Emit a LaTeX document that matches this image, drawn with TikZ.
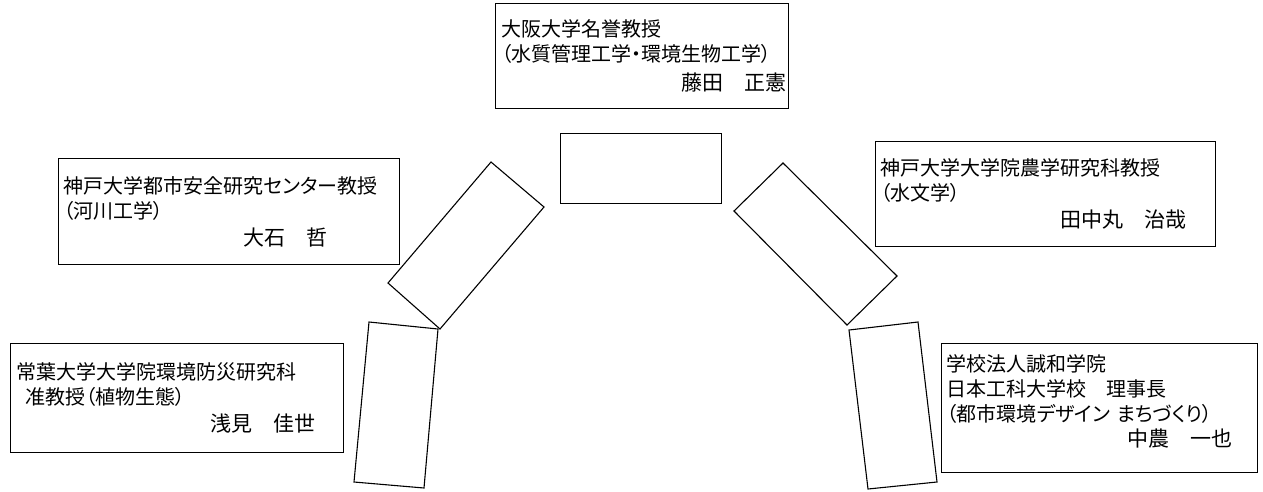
\documentclass[tikz,border=0pt]{standalone}
\usepackage{fontspec}
\setmainfont{Noto Sans CJK JP}[RawFeature=+palt]
\newcommand\nm[2]{\hspace*{#1}\makebox[0pt][l]{\fontsize{21}{27}\selectfont #2}}
\begin{document}
\begin{tikzpicture}[x=1pt,y=-1pt,
  pbox/.style={draw, line width=1.3pt, rectangle, anchor=north west, inner ysep=0pt, align=left, font=\fontsize{20}{25}\selectfont},
  plate/.style={draw, line width=1.1pt, line join=miter}]
\useasboundingbox (0,0) rectangle (1263,491);

\node[pbox, minimum width=293pt, minimum height=105pt, inner xsep=6pt, text width=281pt] (fujita) at (495,3)
  {大阪大学名誉教授\\（水質管理工学・環境生物工学）\\[4pt]\nm{180pt}{藤田　正憲}};
\node[pbox, minimum width=341pt, minimum height=106pt, inner xsep=5pt, text width=331pt] (oishi) at (58,158)
  {神戸大学都市安全研究センター教授\\（河川工学）\\[2pt]\nm{180pt}{大石　哲}};
\node[pbox, minimum width=340pt, minimum height=105pt, inner xsep=5pt, text width=330pt] (tanakamaru) at (875,141)
  {神戸大学大学院農学研究科教授\\（水文学）\\[2pt]\nm{180pt}{田中丸　治哉}};
\node[pbox, minimum width=333pt, minimum height=109pt, inner xsep=6pt, text width=321pt] (asami) at (10,343)
  {常葉大学大学院環境防災研究科\\\hspace*{9pt}准教授（植物生態）\\[2pt]\nm{194pt}{浅見　佳世}};
\node[pbox, minimum width=316pt, minimum height=129pt, inner xsep=5pt, text width=306pt] (nakano) at (941,343)
  {学校法人誠和学院\\日本工科大学校　理事長\\（都市環境デザイン まちづくり）\\\nm{181pt}{中農　一也}\rule[-16pt]{0pt}{0pt}};

\node[draw, line width=1.3pt, anchor=north west, minimum width=161pt, minimum height=70pt, inner sep=0pt] (hub) at (560,133) {};

\draw[plate] (491,162) -- (544,207) -- (440,329) -- (388,283) -- cycle;
\draw[plate] (369,322) -- (438,329) -- (424,488) -- (354,482) -- cycle;
\draw[plate] (783,163) -- (897,276) -- (847,325) -- (734,211) -- cycle;
\draw[plate] (849,330) -- (918,322) -- (937,482) -- (868,489) -- cycle;
\end{tikzpicture}
\end{document}
